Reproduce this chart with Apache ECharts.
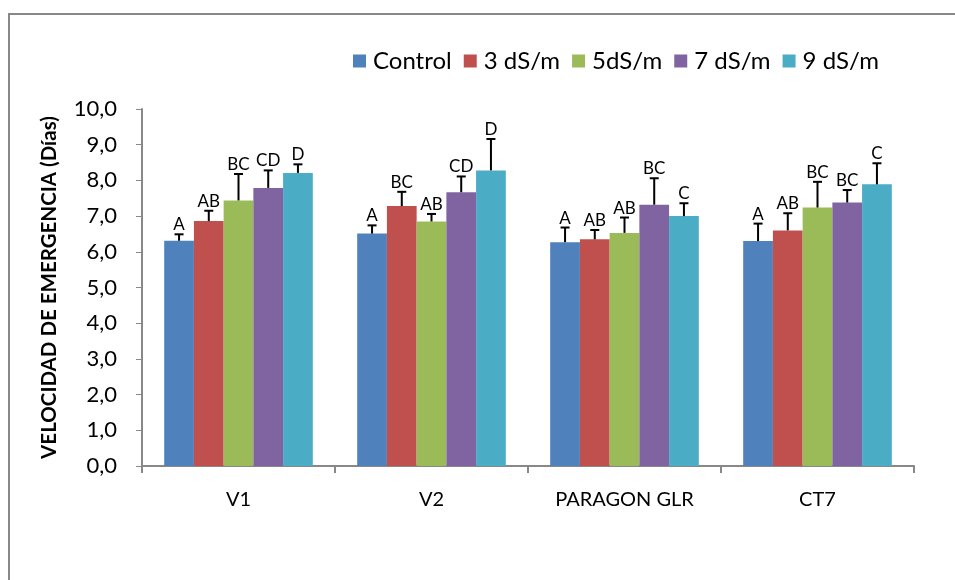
<!DOCTYPE html>
<html>
<head>
<meta charset="utf-8">
<script src="https://cdn.jsdelivr.net/npm/echarts@6/dist/echarts.min.js"></script>
<style>
  html, body { margin: 0; padding: 0; background: #fff; }
  #chart { width: 955px; height: 580px; }
</style>
</head>
<body>
<div id="chart"></div>
<script>
// Emergence speed per variety and salinity level
const categories = ['V1', 'V2', 'PARAGON GLR', 'CT7'];
const seriesNames = ['Control', '3 dS/m', '5dS/m', '7 dS/m', '9 dS/m'];
const colors = ['#4F81BD', '#C0504D', '#9BBB59', '#8064A2', '#4BACC6'];

const control = [6.31, 6.51, 6.27, 6.30];
const ds3 = [6.86, 7.28, 6.35, 6.60];
const ds5 = [7.44, 6.85, 6.53, 7.24];
const ds7 = [7.79, 7.67, 7.32, 7.38];
const ds9 = [8.21, 8.28, 7.00, 7.89];

// Upper error (standard deviation)
const errControl = [0.18, 0.23, 0.41, 0.49];
const errDs3 = [0.29, 0.40, 0.26, 0.48];
const errDs5 = [0.74, 0.21, 0.43, 0.72];
const errDs7 = [0.49, 0.44, 0.74, 0.35];
const errDs9 = [0.24, 0.88, 0.36, 0.59];

// Significance letters
const letControl = ['A', 'A', 'A', 'A'];
const letDs3 = ['AB', 'BC', 'AB', 'AB'];
const letDs5 = ['BC', 'AB', 'AB', 'BC'];
const letDs7 = ['CD', 'CD', 'BC', 'BC'];
const letDs9 = ['D', 'D', 'C', 'C'];

const yTicks = [0, 1, 2, 3, 4, 5, 6, 7, 8, 9, 10];

const values = [control, ds3, ds5, ds7, ds9];
const errors = [errControl, errDs3, errDs5, errDs7, errDs9];
const letters = [letControl, letDs3, letDs5, letDs7, letDs9];

const FONT = 'Lato, "Open Sans", sans-serif';
const CAT_GAP = 0.23;
const N = seriesNames.length;

const barSeries = seriesNames.map((name, i) => ({
  name: name,
  type: 'bar',
  data: values[i],
  barGap: 0,
  barCategoryGap: (CAT_GAP * 100) + '%',
  itemStyle: { color: colors[i] },
  z: 2
}));

const errSeries = seriesNames.map((name, i) => ({
  name: name + '-err',
  type: 'custom',
  z: 5,
  silent: true,
  data: categories.map((c, j) => [j, values[i][j], errors[i][j], letters[i][j]]),
  renderItem: function (params, api) {
    const idx = api.value(0);
    const v = api.value(1);
    const e = api.value(2);
    const lab = api.value(3);
    const catW = api.size([1, 0])[0];
    const barW = catW * (1 - CAT_GAP) / N;
    const base = api.coord([idx, v]);
    const x = base[0] + (i - (N - 1) / 2) * barW;
    const yTop = api.coord([idx, v + e])[1];
    const yBot = base[1];
    const cap = 4.5;
    return {
      type: 'group',
      children: [
        { type: 'line', shape: { x1: x, y1: yBot, x2: x, y2: yTop }, style: { stroke: '#000', lineWidth: 2 } },
        { type: 'line', shape: { x1: x - cap, y1: yTop, x2: x + cap, y2: yTop }, style: { stroke: '#000', lineWidth: 2 } },
        { type: 'text', style: { x: x, y: yTop - 1, text: lab, fill: '#000', font: '17px ' + FONT, align: 'center', verticalAlign: 'bottom' } }
      ]
    };
  }
}));

const chart = echarts.init(document.getElementById('chart'), null, { renderer: 'canvas' });
chart.setOption({
  animation: false,
  backgroundColor: '#fff',
  graphic: [{
    type: 'rect',
    shape: { x: 9, y: 14, width: 1000, height: 1000 },
    style: { fill: 'none', stroke: '#888', lineWidth: 2 },
    silent: true
  }],
  legend: {
    data: seriesNames,
    left: 348,
    top: 44,
    icon: 'rect',
    itemWidth: 13,
    itemHeight: 13,
    itemGap: 12,
    textStyle: { fontFamily: FONT, fontSize: 24, color: '#000', padding: [0, 0, 0, 2] }
  },
  grid: { left: 142, right: 41, top: 109, bottom: 114 },
  xAxis: {
    type: 'category',
    data: categories,
    axisLine: { lineStyle: { color: '#888', width: 2 } },
    axisTick: { show: true, length: 7, lineStyle: { color: '#888', width: 2 } },
    axisLabel: { fontFamily: FONT, fontSize: 20, color: '#000', margin: 24 }
  },
  yAxis: {
    type: 'value',
    min: yTicks[0],
    max: yTicks[yTicks.length - 1],
    interval: 1,
    name: 'VELOCIDAD DE EMERGENCIA (Días)',
    nameLocation: 'middle',
    nameGap: 82,
    nameTextStyle: { fontFamily: FONT, fontSize: 20.5, fontWeight: 'bold', color: '#000' },
    splitLine: { show: false },
    axisLine: { show: true, lineStyle: { color: '#888', width: 2 } },
    axisTick: { show: true, length: 6, lineStyle: { color: '#888', width: 1 } },
    axisLabel: {
      fontFamily: FONT, fontSize: 22, color: '#000', margin: 25,
      formatter: v => v.toFixed(1).replace('.', ',')
    }
  },
  series: barSeries.concat(errSeries)
});
</script>
</body>
</html>
